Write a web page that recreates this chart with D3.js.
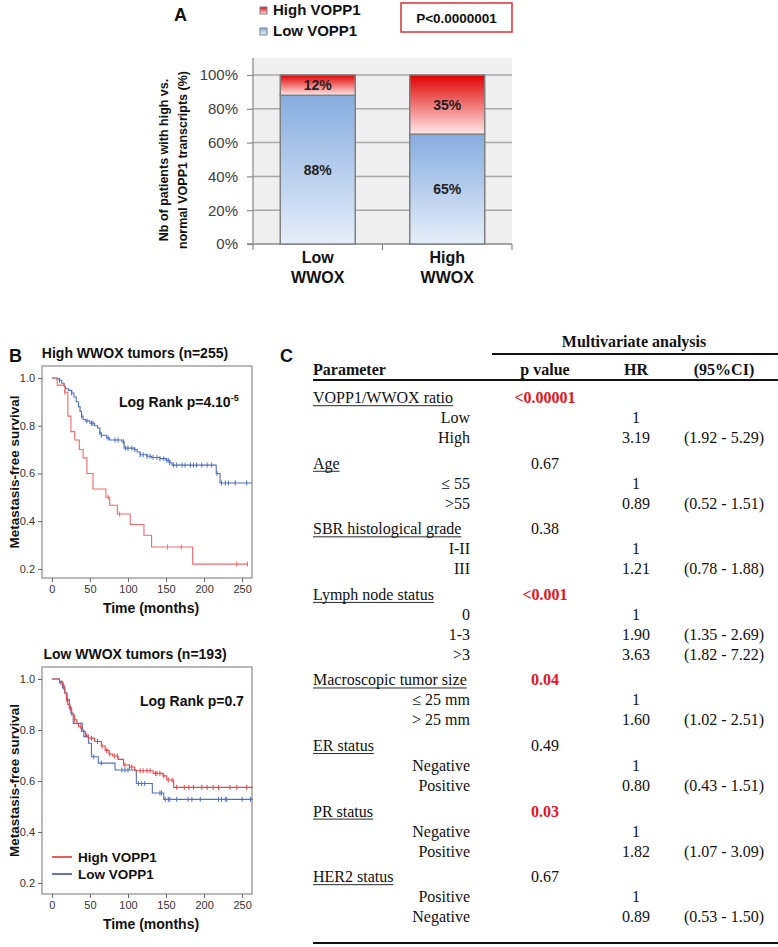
<!DOCTYPE html>
<html><head><meta charset="utf-8">
<script src="https://cdn.jsdelivr.net/npm/d3@7"></script>
<style>body{margin:0;background:#fff}svg{display:block}</style>
</head><body>
<svg id="fig" width="778" height="947"></svg>
<script>
// ---------- Panel A data ----------
const barCategories = ["Low WWOX", "High WWOX"];
const lowVOPP1Pct = [88, 65];
const highVOPP1Pct = [12, 35];
const pctTicks = [0, 20, 40, 60, 80, 100];
const legendA = ["High VOPP1", "Low VOPP1"];
const pBoxText = "P<0.0000001";
const yTitleA = ["Nb of patients with high vs.", "normal VOPP1 transcripts (%)"];

// ---------- Panel B data ----------
const kmTimeTicks = [0, 50, 100, 150, 200, 250];
const kmSurvTicks = [0.2, 0.4, 0.6, 0.8, 1.0];
// High WWOX tumors (n=255)
const hiW_highVOPP1 = [[0,1.0],[7,0.97],[17,0.94],[21,0.84],[25,0.775],[30,0.74],[36,0.70],[41,0.665],[46,0.60],[54,0.535],[71,0.50],[76,0.467],[86,0.43],[103,0.386],[121,0.341],[131,0.292],[185,0.22]];
const hiW_highVOPP1_end = 257;
const hiW_highVOPP1_cens = [17, 74, 89, 152, 170, 243, 257];
const hiW_lowVOPP1 = [[0,1.0],[6,0.996],[10,0.99],[13,0.978],[16,0.965],[18,0.955],[22,0.948],[26,0.937],[29,0.92],[32,0.90],[35,0.88],[37,0.86],[39,0.84],[41,0.826],[44,0.82],[50,0.81],[56,0.80],[60,0.79],[63,0.77],[65,0.76],[72,0.748],[76,0.74],[92,0.733],[95,0.706],[108,0.70],[112,0.69],[116,0.678],[125,0.672],[131,0.667],[142,0.662],[150,0.655],[155,0.645],[158,0.635],[216,0.60],[221,0.56]];
const hiW_lowVOPP1_end = 263;
const hiW_lowVOPP1_cens = [10,26,39,46,52,54,63,65,74,83,87,94,97,100,105,109,116,120,125,129,133,138,142,147,151,153,155,160,164,171,175,182,186,190,197,204,210,217,223,228,232,241,256];
// Low WWOX tumors (n=193)
const loW_highVOPP1 = [[0,1.0],[10,0.99],[14,0.976],[16,0.96],[17,0.944],[19,0.918],[21,0.90],[23,0.885],[26,0.859],[30,0.84],[33,0.825],[35,0.813],[39,0.794],[44,0.78],[48,0.768],[56,0.755],[65,0.737],[70,0.72],[75,0.706],[80,0.698],[87,0.685],[94,0.663],[102,0.655],[109,0.64],[133,0.63],[146,0.62],[151,0.604],[160,0.575]];
const loW_highVOPP1_end = 264;
const loW_highVOPP1_cens = [15,20,24,30,38,45,52,60,66,72,76,82,86,96,102,105,116,120,125,129,136,138,142,147,153,158,164,174,180,186,197,204,212,219,234,243,256];
const loW_lowVOPP1 = [[0,1.0],[10,0.985],[14,0.965],[17,0.945],[20,0.92],[23,0.89],[25,0.866],[28,0.826],[40,0.80],[42,0.774],[48,0.748],[52,0.695],[61,0.67],[83,0.643],[111,0.59],[132,0.553],[147,0.528]];
const loW_lowVOPP1_end = 264;
const loW_lowVOPP1_cens = [12,16,20,24,55,65,92,96,100,114,118,122,142,144,149,153,155,164,179,184,195,219,223,228,230,250,261];
const kmTitles = ["High WWOX tumors (n=255)", "Low WWOX tumors (n=193)"];
const kmLegend = ["High VOPP1", "Low VOPP1"];

// ---------- Panel C data ----------
const tableHeaders = ["Parameter", "p value", "HR", "(95%CI)"];
const paramNames = ["VOPP1/WWOX ratio","Age","SBR histological grade","Lymph node status","Macroscopic tumor size","ER status","PR status","HER2 status"];
const paramPValues = ["<0.00001","0.67","0.38","<0.001","0.04","0.49","0.03","0.67"];
const paramSignificant = [true,false,false,true,true,false,true,false];
const levelLabels = [["Low","High"],["\u2264 55",">55"],["I-II","III"],["0","1-3",">3"],["\u2264 25 mm","> 25 mm"],["Negative","Positive"],["Negative","Positive"],["Positive","Negative"]];
const levelHR = [["1","3.19"],["1","0.89"],["1","1.21"],["1","1.90","3.63"],["1","1.60"],["1","0.80"],["1","1.82"],["1","0.89"]];
const levelCI = [["","(1.92 - 5.29)"],["","(0.52 - 1.51)"],["","(0.78 - 1.88)"],["","(1.35 - 2.69)","(1.82 - 7.22)"],["","(1.02 - 2.51)"],["","(0.43 - 1.51)"],["","(1.07 - 3.09)"],["","(0.53 - 1.50)"]];

// ================= drawing =================
const svg = d3.select("#fig");
const SANS = "'Liberation Sans', Arial, sans-serif";
const SERIF = "'Liberation Serif', 'Times New Roman', serif";
const defs = svg.append("defs");
function grad(id, c1, c2) {
  const g = defs.append("linearGradient").attr("id", id).attr("x1",0).attr("y1",0).attr("x2",0).attr("y2",1);
  g.append("stop").attr("offset","0%").attr("stop-color",c1);
  g.append("stop").attr("offset","100%").attr("stop-color",c2);
}
grad("gRed", "#e20000", "#ffe9e9");
grad("gBlue", "#86ade0", "#e6eef9");

// panel letters
[["A",174,21],["B",9,362],["C",280,362]].forEach(([t,x,y]) =>
  svg.append("text").attr("x",x).attr("y",y).attr("font-family",SANS).attr("font-weight","bold").attr("font-size",18).attr("fill","#111").text(t));

// ----- Panel A -----
const gA = svg.append("g");
const xA = d3.scaleBand().domain(barCategories).range([253, 512]);
const yA = d3.scaleLinear().domain([0, 100]).range([244, 75]);
const barW = 75;
gA.append("rect").attr("x",253).attr("y",58).attr("width",259).attr("height",186).attr("fill","#efefef");
gA.selectAll("line.grid").data(pctTicks.filter(d=>d>0)).join("line")
  .attr("x1",253).attr("x2",512).attr("y1",d=>yA(d)).attr("y2",d=>yA(d))
  .attr("stroke","#a9a9a9").attr("stroke-width",1.5);
const axA = d3.axisLeft(yA).tickValues(pctTicks).tickFormat(d=>d+"%").tickSize(6).tickPadding(9);
const axAg = gA.append("g").attr("transform","translate(253,0)").call(axA);
axAg.select(".domain").remove();
axAg.selectAll("line").attr("stroke","#888").attr("stroke-width",1.2);
axAg.selectAll("text").attr("font-family",SANS).attr("font-size",15).attr("fill","#404040");
gA.append("line").attr("x1",253).attr("x2",253).attr("y1",58).attr("y2",244).attr("stroke","#888").attr("stroke-width",1.2);
gA.append("line").attr("x1",247).attr("x2",512).attr("y1",244).attr("y2",244).attr("stroke","#888").attr("stroke-width",1.5);
const catEdges = [xA(barCategories[0]), xA(barCategories[1]), xA(barCategories[1]) + xA.bandwidth()];
gA.selectAll("line.ct").data(catEdges).join("line")
  .attr("x1",d=>d).attr("x2",d=>d).attr("y1",244).attr("y2",250).attr("stroke","#888").attr("stroke-width",1.2);
barCategories.forEach((c,i) => {
  const cx = xA(c) + xA.bandwidth()/2;
  const x0 = cx - barW/2;
  gA.append("rect").attr("x",x0).attr("y",yA(lowVOPP1Pct[i])).attr("width",barW)
    .attr("height",yA(0)-yA(lowVOPP1Pct[i])).attr("fill","url(#gBlue)").attr("stroke","#808080").attr("stroke-width",1.5);
  gA.append("rect").attr("x",x0).attr("y",yA(lowVOPP1Pct[i]+highVOPP1Pct[i])).attr("width",barW)
    .attr("height",yA(lowVOPP1Pct[i])-yA(lowVOPP1Pct[i]+highVOPP1Pct[i])).attr("fill","url(#gRed)").attr("stroke","#808080").attr("stroke-width",1.5);
  gA.append("text").attr("x",cx).attr("y",(yA(0)+yA(lowVOPP1Pct[i]))/2+5).attr("text-anchor","middle")
    .attr("font-family",SANS).attr("font-weight","bold").attr("font-size",14).attr("fill","#222").text(lowVOPP1Pct[i]+"%");
  gA.append("text").attr("x",cx).attr("y",(yA(lowVOPP1Pct[i])+yA(lowVOPP1Pct[i]+highVOPP1Pct[i]))/2+5).attr("text-anchor","middle")
    .attr("font-family",SANS).attr("font-weight","bold").attr("font-size",14).attr("fill","#222").text(highVOPP1Pct[i]+"%");
  c.split(" ").forEach((w,j) => gA.append("text").attr("x",cx).attr("y",263+j*20).attr("text-anchor","middle")
    .attr("font-family",SANS).attr("font-weight","bold").attr("font-size",16).attr("fill","#111").text(w));
});
yTitleA.forEach((t,j) => gA.append("text").attr("transform",`translate(${168+j*19},160) rotate(-90)`).attr("text-anchor","middle")
  .attr("font-family",SANS).attr("font-weight","bold").attr("font-size",12.5).attr("fill","#111").text(t));
// legend
legendA.forEach((t,j) => {
  gA.append("rect").attr("x",260).attr("y",7+j*21).attr("width",7).attr("height",7)
    .attr("fill", j===0 ? "url(#gRed)" : "url(#gBlue)").attr("stroke","#808080").attr("stroke-width",1);
  gA.append("text").attr("x",273).attr("y",15+j*21).attr("font-family",SANS).attr("font-weight","bold").attr("font-size",15).attr("fill","#111").text(t);
});
gA.append("rect").attr("x",401).attr("y",3).attr("width",111).attr("height",29).attr("fill","#fff").attr("stroke","#e03030").attr("stroke-width",1.5);
gA.append("text").attr("x",456.5).attr("y",22.5).attr("text-anchor","middle").attr("font-family",SANS).attr("font-weight","bold").attr("font-size",13.5).attr("fill","#111").text(pBoxText);

// ----- Panel B -----
const BLUE = "#4f70bf";
const xKM = d3.scaleLinear().domain([-13, 263]).range([42, 252]);
function stepAt(steps, t) { let s = steps[0][1]; for (const [ti, si] of steps) { if (ti <= t) s = si; } return s; }
function kmPlot(cfg) {
  const g = svg.append("g");
  const y = d3.scaleLinear().domain(cfg.yDom).range([cfg.bottom, cfg.top]);
  g.append("rect").attr("x",42).attr("y",cfg.top).attr("width",210).attr("height",cfg.bottom-cfg.top)
    .attr("fill","none").attr("stroke","#8a8a8a").attr("stroke-width",1.2);
  const ay = g.append("g").attr("transform","translate(42,0)").call(d3.axisLeft(y).tickValues(kmSurvTicks).tickFormat(d3.format(".1f")).tickSize(4).tickPadding(3));
  ay.select(".domain").remove();
  ay.selectAll("line").attr("stroke","#666");
  ay.selectAll("text").attr("font-family",SANS).attr("font-size",11).attr("fill","#333");
  const ax = g.append("g").attr("transform",`translate(0,${cfg.bottom})`).call(d3.axisBottom(xKM).tickValues(kmTimeTicks).tickSize(4).tickPadding(3));
  ax.select(".domain").remove();
  ax.selectAll("line").attr("stroke","#666");
  ax.selectAll("text").attr("font-family",SANS).attr("font-size",11).attr("fill","#333");
  g.append("text").attr("x",151).attr("y",cfg.bottom+35).attr("text-anchor","middle").attr("font-family",SANS).attr("font-weight","bold").attr("font-size",14).attr("fill","#111").text("Time (months)");
  g.append("text").attr("transform",`translate(19,${(cfg.top+cfg.bottom)/2}) rotate(-90)`).attr("text-anchor","middle").attr("font-family",SANS).attr("font-weight","bold").attr("font-size",13.5).attr("fill","#111").text("Metastasis-free survival");
  g.append("text").attr("x",135).attr("y",cfg.top-8).attr("text-anchor","middle").attr("font-family",SANS).attr("font-weight","bold").attr("font-size",14).attr("fill","#111").text(cfg.title);
  const line = d3.line().x(d=>xKM(d[0])).y(d=>y(d[1])).curve(d3.curveStepAfter);
  cfg.series.forEach(sr => {
    const pts = sr.steps.concat([[sr.end, sr.steps[sr.steps.length-1][1]]]);
    g.append("path").attr("d",line(pts)).attr("fill","none").attr("stroke",sr.color).attr("stroke-width",1.1);
    g.selectAll(null).data(sr.cens).join("line")
      .attr("x1",d=>xKM(d)).attr("x2",d=>xKM(d))
      .attr("y1",d=>y(stepAt(sr.steps,d))-2.5).attr("y2",d=>y(stepAt(sr.steps,d))+2.5)
      .attr("stroke",sr.color).attr("stroke-width",1);
  });
  const lr = g.append("text").attr("x",cfg.lrX).attr("y",cfg.lrY).attr("font-family",SANS).attr("font-weight","bold").attr("font-size",14).attr("fill","#111");
  lr.append("tspan").text(cfg.lr);
  if (cfg.lrSup) lr.append("tspan").attr("dy",-6).attr("font-size",9).text(cfg.lrSup);
  return {g, y};
}
kmPlot({top:366, bottom:578, yDom:[0.162,1.05], title:kmTitles[0], lr:"Log Rank p=4.10", lrSup:"-5", lrX:119, lrY:407,
  series:[{steps:hiW_lowVOPP1,end:hiW_lowVOPP1_end,cens:hiW_lowVOPP1_cens,color:BLUE},
          {steps:hiW_highVOPP1,end:hiW_highVOPP1_end,cens:hiW_highVOPP1_cens,color:"#ee6a6e"}]});
const km2 = kmPlot({top:667, bottom:894, yDom:[0.157,1.047], title:kmTitles[1], lr:"Log Rank p=0.7", lrSup:null, lrX:140, lrY:706,
  series:[{steps:loW_lowVOPP1,end:loW_lowVOPP1_end,cens:loW_lowVOPP1_cens,color:BLUE},
          {steps:loW_highVOPP1,end:loW_highVOPP1_end,cens:loW_highVOPP1_cens,color:"#e8474a"}]});
kmLegend.forEach((t,j) => {
  km2.g.append("line").attr("x1",52).attr("x2",72).attr("y1",857+j*17).attr("y2",857+j*17).attr("stroke", j===0?"#e82525":"#3345a5").attr("stroke-width",1.5);
  km2.g.append("text").attr("x",78).attr("y",862+j*17).attr("font-family",SANS).attr("font-weight","bold").attr("font-size",13.5).attr("fill","#111").text(t);
});

// ----- Panel C -----
const gC = svg.append("g").attr("font-family",SERIF).attr("font-size",16).attr("fill","#111");
const colP = 545, colHR = 636, colCI = 724, colName = 313, colLevel = 470;
gC.append("text").attr("x",634).attr("y",347).attr("text-anchor","middle").attr("font-weight","bold").text("Multivariate analysis");
gC.append("line").attr("x1",492).attr("x2",778).attr("y1",354).attr("y2",354).attr("stroke","#111").attr("stroke-width",2);
gC.append("text").attr("x",colName).attr("y",375).attr("font-weight","bold").text(tableHeaders[0]);
[[colP,1],[colHR,2],[colCI,3]].forEach(([x,i]) => gC.append("text").attr("x",x).attr("y",375).attr("text-anchor","middle").attr("font-weight","bold").text(tableHeaders[i]));
gC.append("line").attr("x1",313).attr("x2",778).attr("y1",380).attr("y2",380).attr("stroke","#111").attr("stroke-width",2);
let yc = 397.7;
paramNames.forEach((p,i) => {
  if (i>0) yc += 25.57;
  const t = gC.append("text").attr("x",colName).attr("y",yc+5.5).text(p);
  const w = t.node().getComputedTextLength();
  gC.append("line").attr("x1",colName).attr("x2",colName+w).attr("y1",yc+8).attr("y2",yc+8).attr("stroke","#111").attr("stroke-width",0.9);
  gC.append("text").attr("x",colP).attr("y",yc+5.5).attr("text-anchor","middle")
    .attr("font-weight",paramSignificant[i]?"bold":"normal").attr("fill",paramSignificant[i]?"#e3141c":"#111").text(paramPValues[i]);
  levelLabels[i].forEach((l,k) => {
    yc += 20;
    gC.append("text").attr("x",colLevel).attr("y",yc+5.5).attr("text-anchor","end").text(l);
    gC.append("text").attr("x",colHR).attr("y",yc+5.5).attr("text-anchor","middle").text(levelHR[i][k]);
    if (levelCI[i][k]) gC.append("text").attr("x",colCI).attr("y",yc+5.5).attr("text-anchor","middle").text(levelCI[i][k]);
  });
});
gC.append("line").attr("x1",313).attr("x2",778).attr("y1",943).attr("y2",943).attr("stroke","#111").attr("stroke-width",2);
</script>
</body></html>
